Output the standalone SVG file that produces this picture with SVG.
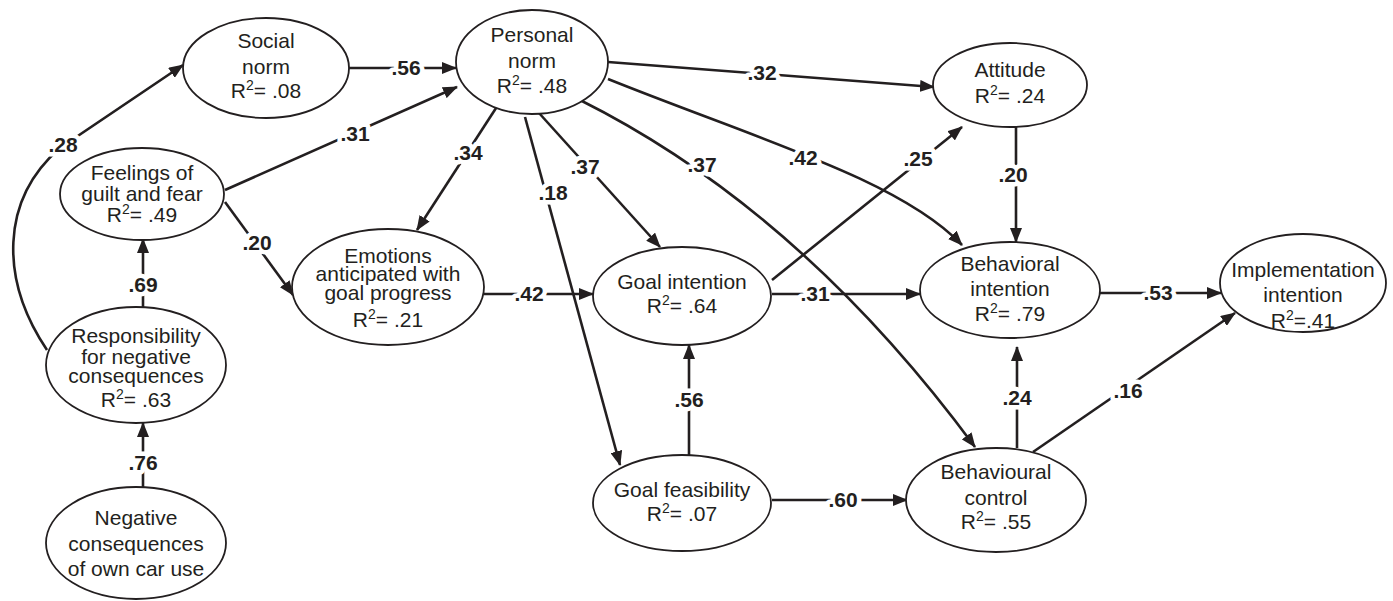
<svg xmlns="http://www.w3.org/2000/svg" width="1393" height="601" viewBox="0 0 1393 601">
<style>
.n{fill:#fff;stroke:#231f20;stroke-width:1.8}
.t{font-family:"Liberation Sans",Arial,sans-serif;font-size:21px;fill:#231f20;text-anchor:middle}
.c{fill:none;stroke:#231f20;stroke-width:2.6}
.l{font-family:"Liberation Sans",Arial,sans-serif;font-size:21px;font-weight:bold;fill:#231f20;text-anchor:middle;stroke:#fff;stroke-width:9;paint-order:stroke;stroke-linejoin:round}
</style>
<defs>
<marker id="ah" viewBox="0 0 15 12" refX="14" refY="6" markerWidth="15" markerHeight="12" markerUnits="userSpaceOnUse" orient="auto">
<path d="M0,0 L15,6 L0,12 z" fill="#231f20"/>
</marker>
</defs>
<rect width="1393" height="601" fill="#fff"/>
<g id="connectors">
<path class="c" marker-end="url(#ah)" d="M47,350 C0,280 0,200 60,148 L183,65"/>
<path class="c" marker-end="url(#ah)" d="M348,68 L456,68"/>
<path class="c" marker-end="url(#ah)" d="M225,190 L457,87"/>
<path class="c" marker-end="url(#ah)" d="M225,202 L293,295"/>
<path class="c" marker-end="url(#ah)" d="M143,307 L143,239"/>
<path class="c" marker-end="url(#ah)" d="M143,487 L143,423"/>
<path class="c" marker-end="url(#ah)" d="M498,105 L417,230"/>
<path class="c" marker-end="url(#ah)" d="M525,117 L620,465"/>
<path class="c" marker-end="url(#ah)" d="M539,113 L660,247"/>
<path class="c" marker-end="url(#ah)" d="M580,100 Q800,210 975,447"/>
<path class="c" marker-end="url(#ah)" d="M608,79 C760,140 900,180 962,245"/>
<path class="c" marker-end="url(#ah)" d="M608,62 L934,87"/>
<path class="c" marker-end="url(#ah)" d="M484,294 L593,294"/>
<path class="c" marker-end="url(#ah)" d="M772,280 L962,127"/>
<path class="c" marker-end="url(#ah)" d="M772,294 L920,294"/>
<path class="c" marker-end="url(#ah)" d="M689,455 L689,345"/>
<path class="c" marker-end="url(#ah)" d="M772,500 L907,500"/>
<path class="c" marker-end="url(#ah)" d="M1016,126 L1016,242"/>
<path class="c" marker-end="url(#ah)" d="M1099,293 L1221,293"/>
<path class="c" marker-end="url(#ah)" d="M1017,448 L1017,347"/>
<path class="c" marker-end="url(#ah)" d="M1033,452 L1235,313"/>
<text class="l" x="63" y="152">.28</text>
<text class="l" x="406" y="75">.56</text>
<text class="l" x="355" y="141">.31</text>
<text class="l" x="257" y="250">.20</text>
<text class="l" x="143" y="292">.69</text>
<text class="l" x="143" y="470">.76</text>
<text class="l" x="468" y="160">.34</text>
<text class="l" x="553" y="200">.18</text>
<text class="l" x="585" y="174">.37</text>
<text class="l" x="702" y="172">.37</text>
<text class="l" x="803" y="165">.42</text>
<text class="l" x="762" y="80">.32</text>
<text class="l" x="529" y="301">.42</text>
<text class="l" x="918" y="166">.25</text>
<text class="l" x="815" y="301">.31</text>
<text class="l" x="689" y="407">.56</text>
<text class="l" x="843" y="507">.60</text>
<text class="l" x="1013" y="182">.20</text>
<text class="l" x="1158" y="300">.53</text>
<text class="l" x="1017" y="405">.24</text>
<text class="l" x="1128" y="398">.16</text>
</g>
<g id="social-norm">
<ellipse class="n" cx="266" cy="68" rx="83" ry="50"/>
<text class="t" x="266" y="48">Social</text>
<text class="t" x="266" y="74">norm</text>
<text class="t" x="266" y="98">R<tspan dy="-8" font-size="14">2</tspan><tspan dy="8">= .08</tspan></text>
</g>
<g id="personal-norm">
<ellipse class="n" cx="532" cy="62" rx="76" ry="52"/>
<text class="t" x="532" y="42">Personal</text>
<text class="t" x="532" y="68">norm</text>
<text class="t" x="532" y="93">R<tspan dy="-8" font-size="14">2</tspan><tspan dy="8">= .48</tspan></text>
</g>
<g id="feelings">
<ellipse class="n" cx="142" cy="194" rx="82" ry="46"/>
<text class="t" x="142" y="180">Feelings of</text>
<text class="t" x="142" y="201">guilt and fear</text>
<text class="t" x="142" y="222">R<tspan dy="-8" font-size="14">2</tspan><tspan dy="8">= .49</tspan></text>
</g>
<g id="responsibility">
<ellipse class="n" cx="136" cy="365" rx="90" ry="58"/>
<text class="t" x="136" y="343">Responsibility</text>
<text class="t" x="136" y="364">for negative</text>
<text class="t" x="136" y="383">consequences</text>
<text class="t" x="136" y="407">R<tspan dy="-8" font-size="14">2</tspan><tspan dy="8">= .63</tspan></text>
</g>
<g id="negative-consequences">
<ellipse class="n" cx="136" cy="543" rx="90" ry="56"/>
<text class="t" x="136" y="525">Negative</text>
<text class="t" x="136" y="551">consequences</text>
<text class="t" x="136" y="576">of own car use</text>
</g>
<g id="emotions">
<ellipse class="n" cx="388" cy="287" rx="96" ry="58"/>
<text class="t" x="388" y="263">Emotions</text>
<text class="t" x="388" y="281">anticipated with</text>
<text class="t" x="388" y="300">goal progress</text>
<text class="t" x="388" y="327">R<tspan dy="-8" font-size="14">2</tspan><tspan dy="8">= .21</tspan></text>
</g>
<g id="goal-intention">
<ellipse class="n" cx="682" cy="296" rx="89" ry="49"/>
<text class="t" x="682" y="289">Goal intention</text>
<text class="t" x="682" y="313">R<tspan dy="-8" font-size="14">2</tspan><tspan dy="8">= .64</tspan></text>
</g>
<g id="goal-feasibility">
<ellipse class="n" cx="682" cy="503" rx="89" ry="48"/>
<text class="t" x="682" y="497">Goal feasibility</text>
<text class="t" x="682" y="521">R<tspan dy="-8" font-size="14">2</tspan><tspan dy="8">= .07</tspan></text>
</g>
<g id="attitude">
<ellipse class="n" cx="1010" cy="85" rx="77" ry="42"/>
<text class="t" x="1010" y="77">Attitude</text>
<text class="t" x="1010" y="103">R<tspan dy="-8" font-size="14">2</tspan><tspan dy="8">= .24</tspan></text>
</g>
<g id="behavioral-intention">
<ellipse class="n" cx="1010" cy="290" rx="90" ry="48"/>
<text class="t" x="1010" y="271">Behavioral</text>
<text class="t" x="1010" y="296">intention</text>
<text class="t" x="1010" y="321">R<tspan dy="-8" font-size="14">2</tspan><tspan dy="8">= .79</tspan></text>
</g>
<g id="implementation-intention">
<ellipse class="n" cx="1303" cy="283" rx="83" ry="49"/>
<text class="t" x="1303" y="277">Implementation</text>
<text class="t" x="1303" y="302">intention</text>
<text class="t" x="1303" y="328">R<tspan dy="-8" font-size="14">2</tspan><tspan dy="8">=.41</tspan></text>
</g>
<g id="behavioural-control">
<ellipse class="n" cx="996" cy="500" rx="90" ry="52"/>
<text class="t" x="996" y="479">Behavioural</text>
<text class="t" x="996" y="505">control</text>
<text class="t" x="996" y="529">R<tspan dy="-8" font-size="14">2</tspan><tspan dy="8">= .55</tspan></text>
</g>
</svg>
